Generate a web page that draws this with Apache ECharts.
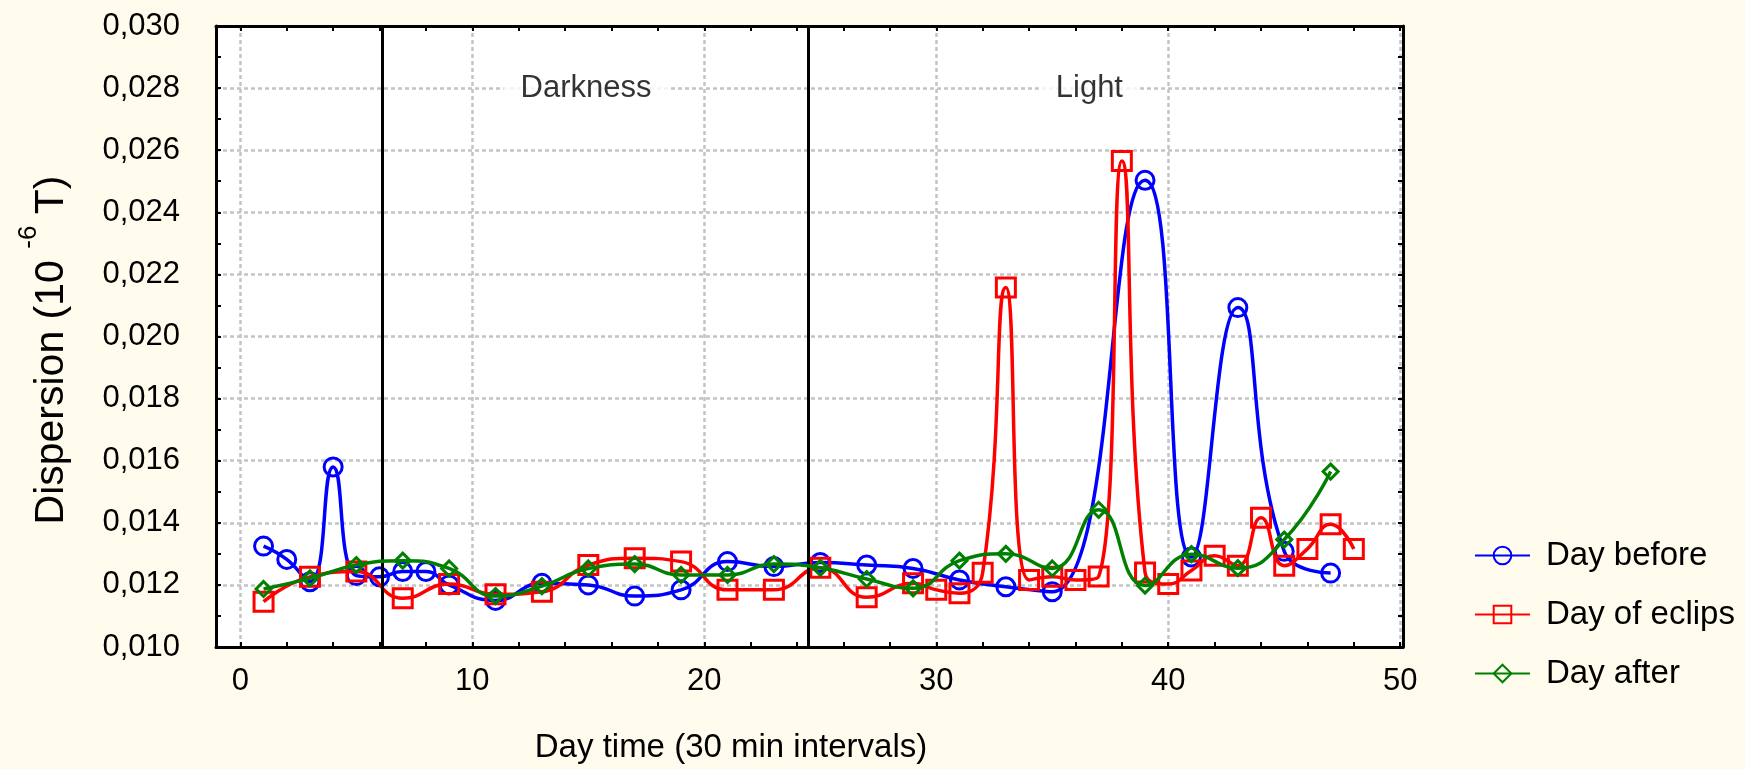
<!DOCTYPE html>
<html><head><meta charset="utf-8">
<script src="https://cdn.jsdelivr.net/npm/echarts@6/dist/echarts.min.js"></script>
<style>html,body{margin:0;padding:0;background:#fffcee;} #c{width:1745px;height:769px;}</style>
</head><body><div id="c"></div>
<script>
// ---- data ----
const seriesNames = ['Day before', 'Day of eclips', 'Day after'];
const xBefore = [1,2,3,4,5,6,7,8,9,11,13,15,17,19,21,23,25,27,29,31,33,35,39,41,43,45,47];
const before  = [0.01325,0.01282,0.0121,0.0158,0.0123,0.01226,0.01243,0.01243,0.0120,0.0115,0.01205,0.0120,0.01164,0.01184,0.01275,0.01259,0.01272,0.01264,0.01253,0.01216,0.01194,0.01178,0.02503,0.0129,0.02093,0.01308,0.01238];
const xEclipse = [1,3,5,7,9,11,13,15,17,19,21,23,25,27,29,30,31,32,33,34,35,36,37,38,39,40,41,42,43,44,45,46,47,48];
const eclipse  = [0.01146,0.01226,0.01243,0.01157,0.01203,0.0117,0.01178,0.01264,0.01286,0.01275,0.01184,0.01184,0.01255,0.0116,0.01205,0.01184,0.01173,0.01239,0.02158,0.01216,0.01226,0.01216,0.01227,0.02565,0.0124,0.01203,0.01246,0.01294,0.01262,0.01416,0.01262,0.01316,0.01395,0.01316];
const xAfter = [1,3,5,7,9,11,13,15,17,19,21,23,25,27,29,31,33,35,37,39,41,43,45,47];
const after  = [0.01187,0.01221,0.01264,0.01278,0.01253,0.01164,0.01196,0.01253,0.01267,0.01232,0.01232,0.01267,0.01255,0.01219,0.01189,0.01278,0.013,0.01253,0.01442,0.01198,0.01299,0.01254,0.01346,0.01565];
const xTickValues  = [0,2,4,6,8,10,12,14,16,18,20,22,24,26,28,30,32,34,36,38,40,42,44,46,48,50];
const xLabelValues = [0,10,20,30,40,50];
const periodBounds = [6.1, 24.5];
const periodLabels = ['Darkness', 'Light'];
const periodLabelX = [14.9, 36.6];
const periodLabelY = [0.028, 0.028];

// ---- chart ----
const FONT = 'Liberation Sans, Arial, sans-serif';
const chart = echarts.init(document.getElementById('c'), null, {renderer: 'canvas'});
const axisLine = {show: true, onZero: false, lineStyle: {color: '#000', width: 3}};
const tickStyle = {color: '#000', width: 2};
const gridDash = {color: '#c4c4c4', width: 2.5, type: [4, 3]};
const xRange = {type: 'value', min: -1.05, max: 50.12};
const yRange = {type: 'value', min: 0.010, max: 0.030, interval: 0.002};

function pairs(xs, ys) { return xs.map((x, i) => [x, ys[i]]); }

const option = {
  backgroundColor: '#fffcee',
  animation: false,
  textStyle: {fontFamily: FONT},
  grid: {left: 216, right: 342, top: 26, bottom: 122, show: true, backgroundColor: '#fff', borderWidth: 0},
  legend: {
    orient: 'vertical', left: 1469, top: 534, itemWidth: 55, itemHeight: 22, itemGap: 26,
    data: seriesNames,
    textStyle: {fontSize: 33, color: '#000', fontFamily: FONT, padding: [0, 0, 0, 11], lineHeight: 33}
  },
  xAxis: [
    Object.assign({}, xRange, {
      position: 'bottom', axisLine: axisLine,
      axisTick: {show: true, inside: true, length: 5, lineStyle: tickStyle, customValues: xTickValues},
      axisLabel: {customValues: xLabelValues, fontSize: 31, color: '#000', margin: 19, fontFamily: FONT},
      splitLine: {show: false},
      name: 'Day time (30 min intervals)', nameLocation: 'middle', nameGap: 84,
      nameTextStyle: {fontSize: 33, color: '#000', fontFamily: FONT, padding: [0, 157, 0, 0]}
    }),
    Object.assign({}, xRange, {
      position: 'top', axisLine: axisLine,
      axisTick: {show: true, inside: true, length: 5, lineStyle: tickStyle, customValues: xTickValues},
      axisLabel: {show: false}, splitLine: {show: false}
    }),
    Object.assign({}, xRange, {
      position: 'bottom', axisLine: {show: false},
      axisTick: {show: false, customValues: xLabelValues},
      axisLabel: {show: false, customValues: xLabelValues},
      splitLine: {show: true, lineStyle: gridDash}
    })
  ],
  yAxis: [
    Object.assign({}, yRange, {
      position: 'left', axisLine: axisLine,
      axisTick: {show: true, inside: true, length: 5, lineStyle: tickStyle},
      minorTick: {show: true, splitNumber: 2, length: 5, lineStyle: tickStyle},
      axisLabel: {fontSize: 31, color: '#000', margin: 36, fontFamily: FONT,
        formatter: v => v.toFixed(3).replace('.', ',')},
      splitLine: {show: true, lineStyle: gridDash},
      name: '{m|Dispersion (10 }{sup|-6}{m| T)}', nameLocation: 'middle', nameGap: 144,
      nameTextStyle: {color: '#000', fontFamily: FONT, padding: [0, 27, 0, 0], rich: {
        m: {fontSize: 41, lineHeight: 56, verticalAlign: 'bottom', color: '#000', fontFamily: FONT},
        sup: {fontSize: 26, lineHeight: 56, verticalAlign: 'top', color: '#000', fontFamily: FONT}
      }}
    }),
    Object.assign({}, yRange, {
      position: 'right', axisLine: axisLine,
      axisTick: {show: true, inside: true, length: 5, lineStyle: tickStyle},
      minorTick: {show: true, splitNumber: 2, length: 5, lineStyle: tickStyle},
      axisLabel: {show: false}, splitLine: {show: false}
    })
  ],
  series: [
    {
      name: seriesNames[0], type: 'line', xAxisIndex: 0, yAxisIndex: 0,
      data: pairs(xBefore, before), smooth: true, showAllSymbol: true,
      symbol: 'circle', symbolSize: 18, z: 3,
      lineStyle: {color: '#0000ff', width: 3.5},
      itemStyle: {color: 'rgba(255,255,255,0)', borderColor: '#0000ff', borderWidth: 3},
      markLine: {
        silent: true, symbol: 'none', label: {show: false},
        lineStyle: {color: '#000', width: 3, type: 'solid'},
        data: periodBounds.map(b => ({xAxis: b}))
      }
    },
    {
      name: seriesNames[1], type: 'line', xAxisIndex: 0, yAxisIndex: 0,
      data: pairs(xEclipse, eclipse), smooth: true, showAllSymbol: true,
      symbol: 'rect', symbolSize: 19, z: 4,
      lineStyle: {color: '#ff0000', width: 3.5},
      itemStyle: {color: 'rgba(255,255,255,0)', borderColor: '#ff0000', borderWidth: 3}
    },
    {
      name: seriesNames[2], type: 'line', xAxisIndex: 0, yAxisIndex: 0,
      data: pairs(xAfter, after), smooth: true, showAllSymbol: true,
      symbol: 'diamond', symbolSize: 15, z: 5,
      lineStyle: {color: '#008000', width: 3.5},
      itemStyle: {color: 'rgba(255,255,255,0)', borderColor: '#008000', borderWidth: 3}
    },
    {
      name: 'periods', type: 'scatter', xAxisIndex: 0, yAxisIndex: 0, silent: true, z: 6,
      data: pairs(periodLabelX, periodLabelY), symbolSize: 1,
      itemStyle: {color: 'rgba(0,0,0,0)'},
      label: {show: true, position: 'inside', formatter: p => periodLabels[p.dataIndex],
        fontSize: 31, color: '#000', fontFamily: FONT, backgroundColor: '#fff', padding: [2, 17]}
    }
  ]
};
chart.setOption(option);
</script></body></html>
